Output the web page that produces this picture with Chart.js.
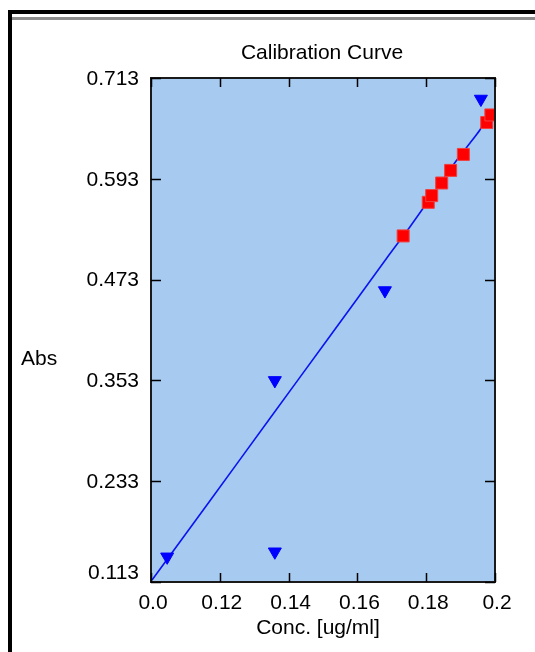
<!DOCTYPE html>
<html>
<head>
<meta charset="utf-8">
<script src="https://cdn.jsdelivr.net/npm/chart.js@4"></script>
<style>
html, body { margin: 0; padding: 0; background: #fff; }
</style>
</head>
<body>
<canvas id="calChart" width="535" height="652"></canvas>
<script>
// standards (red squares)
let stdConc = [0.1733, 0.1806, 0.1816, 0.1845, 0.1871, 0.1908, 0.1976, 0.1988];
let stdAbs  = [0.525, 0.565, 0.573, 0.588, 0.603, 0.622, 0.660, 0.669];
// samples (blue triangles)
let smpConc = [0.1047, 0.1360, 0.1360, 0.1680, 0.1959];
let smpAbs  = [0.143, 0.149, 0.353, 0.460, 0.688];
// fitted curve
let fitConc = [0.1003, 0.1172, 0.1346, 0.1511, 0.1685, 0.1753, 0.1835, 0.1889, 0.1927, 0.1956, 0.1985];
let fitAbs  = [0.1154, 0.2100, 0.3080, 0.4004, 0.4984, 0.5360, 0.5836, 0.6154, 0.6353, 0.6511, 0.6713];

let xTicks = [0.10, 0.12, 0.14, 0.16, 0.18, 0.20];
let xTickLabels = ['0.0', '0.12', '0.14', '0.16', '0.18', '0.2'];
let yTicks = [0.113, 0.233, 0.353, 0.473, 0.593, 0.713];
let yTickLabels = ['0.113', '0.233', '0.353', '0.473', '0.593', '0.713'];

const FONT = '21px "Liberation Sans", Arial, sans-serif';

function toPoints(xs, ys) {
    return xs.map((x, i) => ({ x: x, y: ys[i] }));
}

// window frame, plot background, ticks and all the texts
const framePlugin = {
    id: 'frame',
    beforeDraw(chart) {
        const ctx = chart.ctx;
        const a = chart.chartArea;
        ctx.save();
        ctx.fillStyle = '#fff';
        ctx.fillRect(0, 0, chart.width, chart.height);
        ctx.fillStyle = '#000';
        ctx.fillRect(8, 10, chart.width - 8, 4);
        ctx.fillRect(8, 10, 4, chart.height - 10);
        ctx.fillStyle = '#8c8c8c';
        ctx.fillRect(12, 17, chart.width - 12, 3);
        ctx.fillStyle = '#a6caf0';
        ctx.fillRect(a.left, a.top, a.right - a.left, a.bottom - a.top);
        ctx.restore();
    },
    afterDraw(chart) {
        const ctx = chart.ctx;
        const a = chart.chartArea;
        const xs = chart.scales.x;
        const ys = chart.scales.y;
        ctx.save();
        // plot border
        ctx.strokeStyle = '#1a1a1a';
        ctx.lineWidth = 2;
        ctx.strokeRect(a.left, a.top, a.right - a.left, a.bottom - a.top);

        // inward tick marks
        ctx.strokeStyle = '#000';
        ctx.lineWidth = 1.5;
        ctx.beginPath();
        xTicks.forEach(v => {
            const px = Math.round(xs.getPixelForValue(v)) + 0.5;
            ctx.moveTo(px, a.bottom); ctx.lineTo(px, a.bottom - 9);
            ctx.moveTo(px, a.top); ctx.lineTo(px, a.top + 9);
        });
        yTicks.forEach(v => {
            const py = Math.round(ys.getPixelForValue(v)) + 0.5;
            ctx.moveTo(a.left, py); ctx.lineTo(a.left + 10, py);
            ctx.moveTo(a.right, py); ctx.lineTo(a.right - 10, py);
        });
        ctx.stroke();

        ctx.fillStyle = '#000';
        ctx.font = FONT;
        ctx.textBaseline = 'middle';

        // y tick labels (bottom one sits a bit higher)
        ctx.textAlign = 'right';
        yTicks.forEach((v, i) => {
            let py = ys.getPixelForValue(v) + 1;
            if (i === 0) py -= 10;
            ctx.fillText(yTickLabels[i], a.left - 12, py);
        });

        // x tick labels
        ctx.textAlign = 'center';
        xTicks.forEach((v, i) => {
            ctx.fillText(xTickLabels[i], xs.getPixelForValue(v) + 2, 603);
        });

        // titles
        ctx.fillText('Calibration Curve', 322, 53);
        ctx.fillText('Conc. [ug/ml]', 318, 628);
        ctx.textAlign = 'left';
        ctx.fillText('Abs', 21, 359);
        ctx.restore();
    }
};

let ctx1 = document.getElementById('calChart').getContext('2d');
let calChart = new Chart(ctx1, {
    type: 'scatter',
    data: {
        datasets: [
            {
                label: 'Standards',
                data: toPoints(stdConc, stdAbs),
                pointStyle: 'rect',
                pointRadius: 8.5,
                backgroundColor: '#ff0000',
                borderColor: '#f04040',
                borderWidth: 1,
                clip: 0,
                order: 1
            },
            {
                label: 'Samples',
                data: toPoints(smpConc, smpAbs),
                pointStyle: 'triangle',
                rotation: 180,
                pointRadius: 7.5,
                backgroundColor: '#0000ff',
                borderColor: '#0000ff',
                borderWidth: 1,
                clip: 0,
                order: 1
            },
            {
                label: 'Fit',
                data: toPoints(fitConc, fitAbs),
                showLine: true,
                tension: 0.2,
                borderColor: '#0a14f0',
                borderWidth: 1.6,
                pointRadius: 0,
                clip: 0,
                order: 2
            }
        ]
    },
    options: {
        responsive: false,
        animation: false,
        layout: { padding: { left: 151, top: 78, right: 40, bottom: 70 } },
        plugins: {
            legend: { display: false },
            tooltip: { enabled: false }
        },
        scales: {
            x: { type: 'linear', min: 0.10, max: 0.20, display: false },
            y: { type: 'linear', min: 0.113, max: 0.713, display: false }
        }
    },
    plugins: [framePlugin]
});
</script>
</body>
</html>
